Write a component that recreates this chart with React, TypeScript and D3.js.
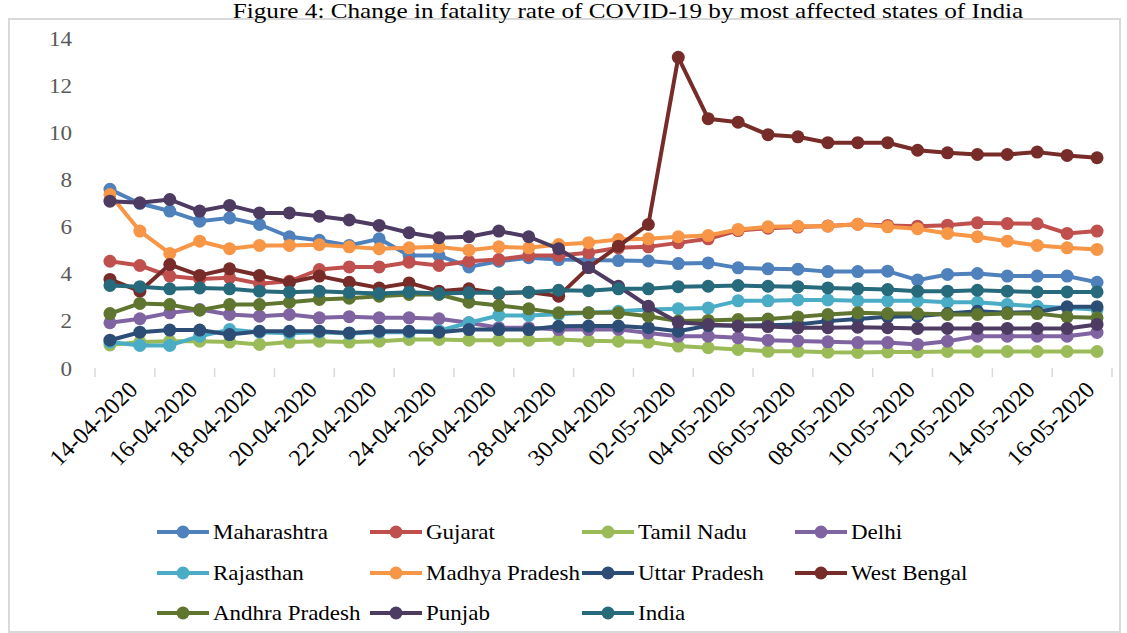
import React from "react";
import * as d3 from "d3";

const dates = [
  "14-04-2020","15-04-2020","16-04-2020","17-04-2020","18-04-2020","19-04-2020","20-04-2020",
  "21-04-2020","22-04-2020","23-04-2020","24-04-2020","25-04-2020","26-04-2020","27-04-2020",
  "28-04-2020","29-04-2020","30-04-2020","01-05-2020","02-05-2020","03-05-2020","04-05-2020",
  "05-05-2020","06-05-2020","07-05-2020","08-05-2020","09-05-2020","10-05-2020","11-05-2020",
  "12-05-2020","13-05-2020","14-05-2020","15-05-2020","16-05-2020","17-05-2020",
];

const maharashtra = [7.6,7.0,6.68,6.25,6.39,6.11,5.59,5.44,5.22,5.5,4.79,4.79,4.31,4.55,4.7,4.62,4.6,4.58,4.56,4.45,4.48,4.27,4.23,4.21,4.11,4.11,4.13,3.75,3.99,4.03,3.92,3.92,3.92,3.66];
const gujarat = [4.55,4.37,3.92,3.8,3.85,3.6,3.7,4.2,4.31,4.31,4.51,4.37,4.55,4.62,4.79,4.79,4.91,5.12,5.16,5.33,5.5,5.85,5.95,6.0,6.05,6.12,6.07,6.04,6.08,6.18,6.15,6.14,5.73,5.83];
const tamilNadu = [1.0,1.12,1.16,1.16,1.12,1.02,1.12,1.16,1.12,1.16,1.23,1.23,1.2,1.2,1.2,1.23,1.18,1.16,1.12,0.95,0.88,0.81,0.73,0.73,0.69,0.68,0.7,0.7,0.72,0.72,0.72,0.72,0.72,0.72];
const delhi = [1.94,2.11,2.36,2.5,2.29,2.22,2.29,2.15,2.2,2.15,2.15,2.11,1.94,1.73,1.73,1.65,1.65,1.66,1.51,1.37,1.37,1.3,1.2,1.17,1.13,1.1,1.1,1.02,1.16,1.37,1.37,1.37,1.37,1.53];
const rajasthan = [1.12,0.98,0.98,1.37,1.65,1.54,1.5,1.54,1.48,1.54,1.54,1.6,1.94,2.25,2.25,2.3,2.36,2.43,2.5,2.54,2.57,2.87,2.87,2.91,2.91,2.87,2.87,2.87,2.81,2.81,2.72,2.64,2.57,2.5];
const madhyaPradesh = [7.38,5.83,4.88,5.4,5.08,5.22,5.22,5.25,5.16,5.08,5.12,5.16,5.02,5.16,5.12,5.26,5.34,5.47,5.5,5.59,5.64,5.9,6.01,6.04,6.04,6.12,6.01,5.93,5.73,5.59,5.4,5.22,5.12,5.05];
const uttarPradesh = [1.2,1.54,1.63,1.63,1.44,1.58,1.58,1.58,1.51,1.58,1.58,1.54,1.65,1.65,1.65,1.79,1.8,1.8,1.73,1.58,1.82,1.82,1.84,1.87,2.01,2.1,2.2,2.22,2.33,2.43,2.36,2.4,2.62,2.62];
const westBengal = [3.78,3.28,4.41,3.95,4.23,3.95,3.66,3.92,3.66,3.42,3.63,3.28,3.38,3.18,3.24,3.07,4.28,5.19,6.11,13.2,10.6,10.45,9.92,9.83,9.58,9.58,9.58,9.26,9.15,9.08,9.08,9.18,9.04,8.94];
const andhraPradesh = [2.33,2.76,2.71,2.47,2.71,2.71,2.81,2.93,2.98,3.07,3.14,3.14,2.81,2.67,2.53,2.36,2.36,2.36,2.22,2.01,2.04,2.08,2.1,2.19,2.29,2.36,2.33,2.33,2.29,2.29,2.33,2.33,2.19,2.15];
const punjab = [7.1,7.03,7.17,6.68,6.92,6.6,6.6,6.46,6.3,6.07,5.76,5.55,5.59,5.83,5.59,5.08,4.29,3.49,2.64,1.96,1.87,1.8,1.78,1.73,1.73,1.75,1.73,1.7,1.7,1.7,1.7,1.7,1.7,1.87];
const india = [3.52,3.47,3.38,3.42,3.38,3.28,3.24,3.28,3.22,3.18,3.24,3.18,3.21,3.21,3.24,3.32,3.3,3.38,3.38,3.47,3.49,3.52,3.49,3.47,3.42,3.38,3.35,3.28,3.28,3.32,3.28,3.25,3.25,3.25];

const seriesNames = ["Maharashtra","Gujarat","Tamil Nadu","Delhi","Rajasthan","Madhya Pradesh","Uttar Pradesh","West Bengal","Andhra Pradesh","Punjab","India"];
const seriesValues = [maharashtra,gujarat,tamilNadu,delhi,rajasthan,madhyaPradesh,uttarPradesh,westBengal,andhraPradesh,punjab,india];
const seriesColors = ["#4F81BD","#C0504D","#9BBB59","#8064A2","#4BACC6","#F79646","#2C4D75","#772C2A","#5F7530","#4D3B62","#276A7C"];
const yTicks = [0,2,4,6,8,10,12,14];
const title = "Figure 4: Change in fatality rate of COVID-19 by most affected states of India";

const W = 1127, H = 633;
const FONT = "'Liberation Serif', 'Times New Roman', serif";

export default function App() {
  const x = d3.scaleBand<string>().domain(dates).range([95, 1112]);
  const bw = x.bandwidth();
  const cx = (d: string) => (x(d) as number) + bw / 2;
  const y = d3.scaleLinear().domain([0, 14]).range([368.5, 38.5]);
  const line = d3.line<number>().x((_, i) => cx(dates[i])).y((v) => y(v));

  const legendCols = [157, 370, 582, 795];
  const legendRows = [532, 573, 613];

  return (
    <svg width={W} height={H} style={{ position: "absolute", left: 0, top: 0, background: "#fff" }}>
      <rect x={9} y={19} width={1111} height={613} fill="#fff" stroke="#d9d9d9" strokeWidth={2} />
      <text transform={`translate(628,18) scale(1.26,1)`} textAnchor="middle" fontFamily={FONT} fontSize={20} fill="#000">{title}</text>

      {yTicks.map((t) => (
        <text key={t} transform={`translate(72,${y(t) + 7}) scale(1.05,1)`} textAnchor="end" fontFamily={FONT} fontSize={22} fill="#595959">{t}</text>
      ))}

      {d3.range(0, dates.length + 1, 2).map((i) => {
        const xx = 95 + i * bw;
        return <line key={i} x1={xx} x2={xx} y1={368} y2={377} stroke="#d9d9d9" strokeWidth={1.5} />;
      })}

      {dates.map((d, i) => i % 2 === 0 ? (
        <text key={d} transform={`translate(${cx(d) + 29},${391}) scale(1.05,1) rotate(-45)`} textAnchor="end" fontFamily={FONT} fontSize={23} fill="#000">{d}</text>
      ) : null)}

      {seriesValues.map((vals, s) => (
        <g key={seriesNames[s]}>
          <path d={line(vals) as string} fill="none" stroke={seriesColors[s]} strokeWidth={4} strokeLinejoin="round" />
          {vals.map((v, i) => (
            <circle key={i} cx={cx(dates[i])} cy={y(v)} r={6.5} fill={seriesColors[s]} />
          ))}
        </g>
      ))}

      {seriesNames.map((name, s) => {
        const lx = legendCols[s % 4];
        const ly = legendRows[Math.floor(s / 4)];
        return (
          <g key={name}>
            <line x1={lx} x2={lx + 52} y1={ly} y2={ly} stroke={seriesColors[s]} strokeWidth={4} />
            <circle cx={lx + 26} cy={ly} r={6.5} fill={seriesColors[s]} />
            <text transform={`translate(${lx + 56},${ly + 7}) scale(1.15,1)`} fontFamily={FONT} fontSize={20} fill="#000">{name}</text>
          </g>
        );
      })}
    </svg>
  );
}
